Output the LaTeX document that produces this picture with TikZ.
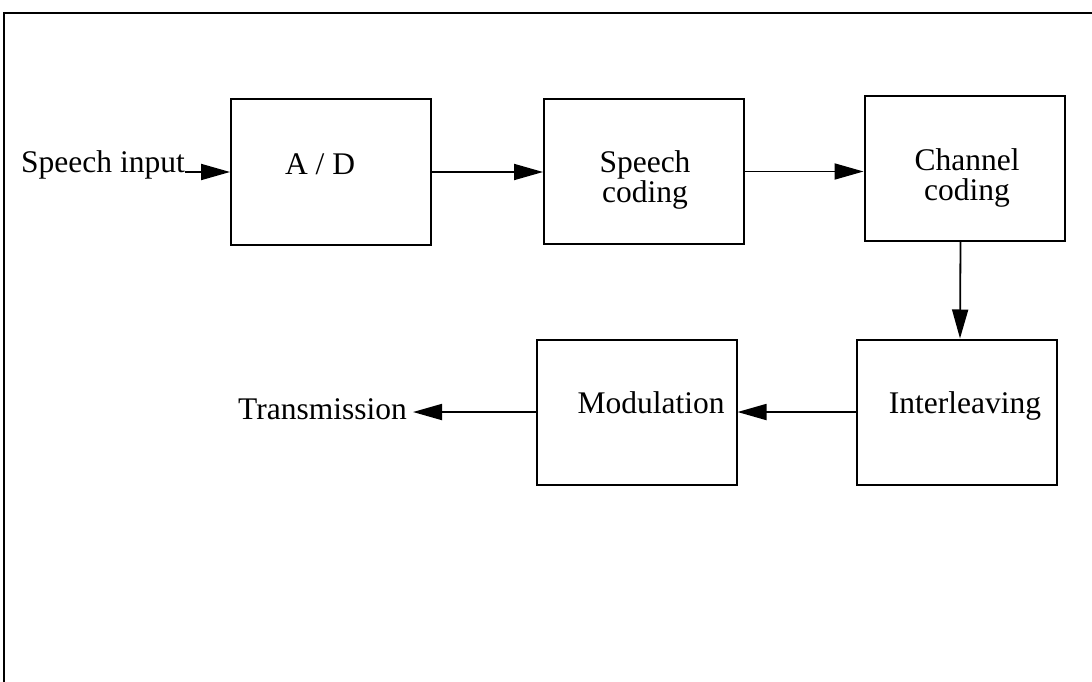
\documentclass[tikz,border=0pt]{standalone}
\usepackage{fontspec}
\setmainfont{Liberation Serif}
\usetikzlibrary{arrows.meta}
\begin{document}
\begin{tikzpicture}[x=1pt,y=-1pt,
  box/.style={draw,line width=2pt,minimum width=200pt,minimum height=145pt,inner sep=0pt},
  lbl/.style={font=\fontsize{31.5}{31.5}\selectfont,inner sep=0pt,anchor=base},
  flow/.style={line width=1.8pt,-{Triangle[length=29pt,width=16pt]}}]
\useasboundingbox (0,0) rectangle (1092,682);
% frame (top and left edges visible)
\draw[line width=2pt] (4,682) -- (4,13) -- (1092,13);
% boxes
\node[box] (ad) at (331,172) {};
\node[box] (sc) at (644,171.5) {};
\node[box] (cc) at (964.5,168.5) {};
\node[box] (il) at (957,412) {};
\node[box] (mo) at (636.5,412) {};
% texts
\node[lbl] (adt) at (320,174) {A / D};
\node[lbl] (sct) at (645,172) {Speech};
\node[lbl] (sct2) at (645,202) {coding};
\node[lbl] (cct) at (967,170) {Channel};
\node[lbl] (cct2) at (967,200) {coding};
\node[lbl] (ilt) at (965,413) {Interleaving};
\node[lbl] (mot) at (651,413) {Modulation};
\node[lbl,anchor=base west] (si) at (21,172) {Speech input};
\node[lbl,anchor=base east] (tr) at (407,419) {Transmission};
% connectors
\draw[flow] (si.base east) -- (si.base east -| ad.west);
\draw[flow] (ad.east) -- (ad.east -| sc.west);
\draw[flow] (sc.east) -- (sc.east -| cc.west);
\draw[flow] ([xshift=-4pt]cc.south) -- ([xshift=3pt]il.north);
\draw[flow] (il.west) -- (mo.east);
\draw[flow] (mo.west) -- ([xshift=6pt,yshift=7pt]tr.base east);
\end{tikzpicture}
\end{document}
